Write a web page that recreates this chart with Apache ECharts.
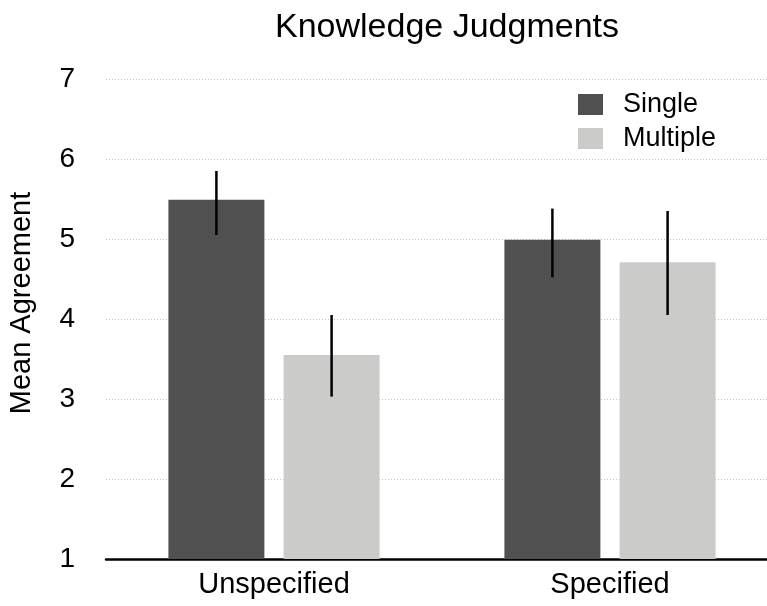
<!DOCTYPE html>
<html>
<head>
<meta charset="utf-8">
<script src="https://cdn.jsdelivr.net/npm/echarts@6/dist/echarts.min.js"></script>
<style>
  html, body { margin: 0; padding: 0; background: #ffffff; }
  #chart { width: 767px; height: 606px; }
</style>
</head>
<body>
<div id="chart"></div>
<script>
// data
const categories = ['Unspecified', 'Specified']
const single = [5.49, 4.99]
const multiple = [3.55, 4.71]
const singleLow = [5.05, 4.52]
const singleHigh = [5.85, 5.38]
const multipleLow = [3.03, 4.05]
const multipleHigh = [4.05, 5.35]

const FONT = '"Liberation Sans", Arial, Helvetica, sans-serif'
const BAR_W = 96
const BAR_GAP = 0.2
const DARK = '#4f504f'
const LIGHT = '#cbcbca'

const chart = echarts.init(document.getElementById('chart'), null, { renderer: 'canvas' })

// error bars drawn at the centre of each bar in the group
const errorSeries = (low, high, side) => ({
  type: 'custom',
  silent: true,
  z: 10,
  data: categories.map((c, i) => [i, low[i], high[i]]),
  renderItem: (params, api) => {
    const offset = side * (BAR_W + BAR_W * BAR_GAP) / 2
    const top = api.coord([api.value(0), api.value(2)])
    const bottom = api.coord([api.value(0), api.value(1)])
    return {
      type: 'line',
      shape: { x1: top[0] + offset, y1: top[1], x2: bottom[0] + offset, y2: bottom[1] },
      style: { stroke: '#000000', lineWidth: 2.5 },
    }
  },
})

const option = {
  backgroundColor: '#ffffff',
  animation: false,
  textStyle: { fontFamily: FONT },
  title: {
    text: 'Knowledge Judgments',
    left: 442,
    textAlign: 'center',
    top: 6,
    textStyle: { fontFamily: FONT, fontSize: 34, fontWeight: 'normal', color: '#000000' },
  },
  legend: {
    orient: 'vertical',
    left: 578,
    top: 91,
    padding: 0,
    itemWidth: 25,
    itemHeight: 21,
    itemGap: 7,
    icon: 'rect',
    data: ['Single', 'Multiple'],
    textStyle: { fontFamily: FONT, fontSize: 27, color: '#000000', padding: [0, 0, 0, 15] },
  },
  grid: {
    left: 106,
    top: 79,
    width: 672,
    height: 480,
    outerBoundsMode: 'none',
    containLabel: false,
  },
  xAxis: {
    type: 'category',
    data: categories,
    axisLine: { lineStyle: { color: '#000000', width: 2.5 } },
    axisTick: { show: false },
    axisLabel: { fontFamily: FONT, fontSize: 29, color: '#000000', margin: 11 },
  },
  yAxis: {
    type: 'value',
    min: 1,
    max: 7,
    interval: 1,
    name: 'Mean Agreement',
    nameLocation: 'middle',
    nameGap: 70,
    nameTextStyle: { fontFamily: FONT, fontSize: 29, color: '#000000', padding: [0, 0, 0, 32] },
    axisLine: { show: false },
    axisTick: { show: false },
    axisLabel: { fontFamily: FONT, fontSize: 28, color: '#000000', margin: 31 },
    splitLine: { lineStyle: { color: '#c4c4c4', type: [1, 2], width: 1 } },
  },
  series: [
    {
      name: 'Single',
      type: 'bar',
      barWidth: BAR_W,
      barGap: BAR_GAP * 100 + '%',
      itemStyle: { color: DARK },
      data: single,
    },
    {
      name: 'Multiple',
      type: 'bar',
      barWidth: BAR_W,
      barGap: BAR_GAP * 100 + '%',
      itemStyle: { color: LIGHT },
      data: multiple,
    },
    errorSeries(singleLow, singleHigh, -1),
    errorSeries(multipleLow, multipleHigh, 1),
  ],
}

chart.setOption(option)
</script>
</body>
</html>
